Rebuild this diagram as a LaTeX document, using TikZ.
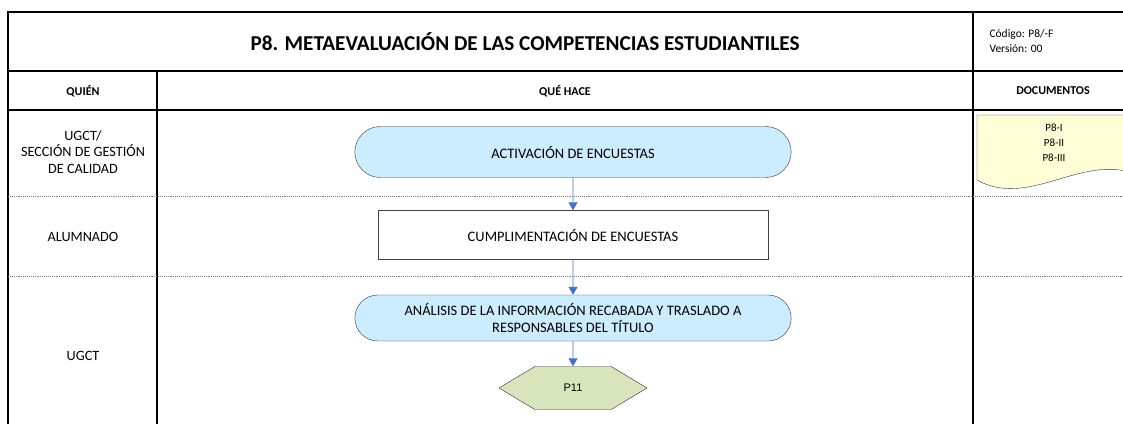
\documentclass[tikz,border=0pt]{standalone}
\usepackage{fontspec}
\setmainfont{Carlito}
\newfontfamily\arialfont{Liberation Sans}
\usetikzlibrary{arrows.meta}
\usetikzlibrary{positioning}
\usetikzlibrary{shapes.misc}
\usetikzlibrary{shapes.symbols}

\definecolor{termblue}{RGB}{204,236,255}
\definecolor{hexgreen}{RGB}{216,228,188}
\definecolor{docyellow}{RGB}{255,255,215}
\definecolor{flowblue}{RGB}{68,114,196}

\tikzset{
    frame/.style={line width=2.6pt},
    lane/.style={gray,densely dotted,line width=0.9pt},
    terminal/.style={rounded rectangle,draw=black!80,fill=termblue,
        minimum width=443pt,minimum height=51pt,align=center,
        font=\fontsize{14.5}{17}\selectfont},
    process/.style={rectangle,draw=black!75,fill=white,
        minimum width=390pt,minimum height=49pt,align=center,
        font=\fontsize{14.5}{17}\selectfont},
    hexa/.style={signal,signal to=west and east,signal pointer angle=62,
        draw=black!80,fill=hexgreen,minimum width=148pt,minimum height=43pt,
        font=\arialfont\fontsize{11}{13}\selectfont},
    flow/.style={flowblue,line width=0.9pt,-{Triangle[width=9pt,length=8pt]}},
    lanetext/.style={align=center,font=\fontsize{14.2}{16.5}\selectfont},
    headtext/.style={font=\bfseries\fontsize{12}{14}\selectfont}
}

\begin{document}
\begin{tikzpicture}[x=1pt,y=-1pt]
    \useasboundingbox (0,0) rectangle (1123,423);
    \clip (0,0) rectangle (1123,423);

    % Draw table
    \draw [frame] (1130,12) -- (8,12) -- (8,430);
    \draw [frame] (8,71) -- (1130,71);
    \draw [frame] (8,110) -- (1130,110);
    \draw [frame] (157,71) -- (157,430);
    \draw [frame] (973,12) -- (973,430);
    \draw [lane] (8,196) -- (1130,196);
    \draw [lane] (8,276) -- (1130,276);

    % title and headers
    \node [font=\bfseries\fontsize{21.2}{24}\selectfont] (titulo) at (525,42)
        {P8. METAEVALUACIÓN DE LAS COMPETENCIAS ESTUDIANTILES};
    \node [anchor=west,align=left,font=\fontsize{11.5}{15}\selectfont] (codigo) at (986,41)
        {Código: P8/-F\\Versión: 00};
    \node [headtext] (quien) at (83,91) {QUIÉN};
    \node [headtext] (quehace) at (565,91) {QUÉ HACE};
    \node [headtext] (documentos) at (1053,91) {DOCUMENTOS};

    % lanes
    \node [lanetext] (ugctsec) at (83,152) {UGCT/\\SECCIÓN DE GESTIÓN\\DE CALIDAD};
    \node [lanetext] (alumnado) at (83,237) {ALUMNADO};
    \node [lanetext] (ugct) at (83,356) {UGCT};

    % documents
    \draw [draw=black!80,fill=docyellow] (977,115) -- (1140,115) -- (1140,176)
        .. controls (1085,150) and (1030,210) .. (977,180) -- cycle;
    \node [align=center,font=\fontsize{11}{15}\selectfont] (docs) at (1054,143)
        {P8-I\\P8-II\\P8-III};

    % flow
    \node [terminal] (activacion) at (573,152) {ACTIVACIÓN DE ENCUESTAS};
    \node [process] (cumplimentacion) at (573,235) {CUMPLIMENTACIÓN DE ENCUESTAS};
    \node [terminal,minimum height=46pt] (analisis) at (573,318)
        {ANÁLISIS DE LA INFORMACIÓN RECABADA Y TRASLADO A\\RESPONSABLES DEL TÍTULO};
    \node [hexa] (p11) at (573,388) {P11};

    \draw [flow] (activacion) -- (cumplimentacion);
    \draw [flow] (cumplimentacion) -- (analisis);
    \draw [flow] (analisis) -- (p11);
\end{tikzpicture}
\end{document}
